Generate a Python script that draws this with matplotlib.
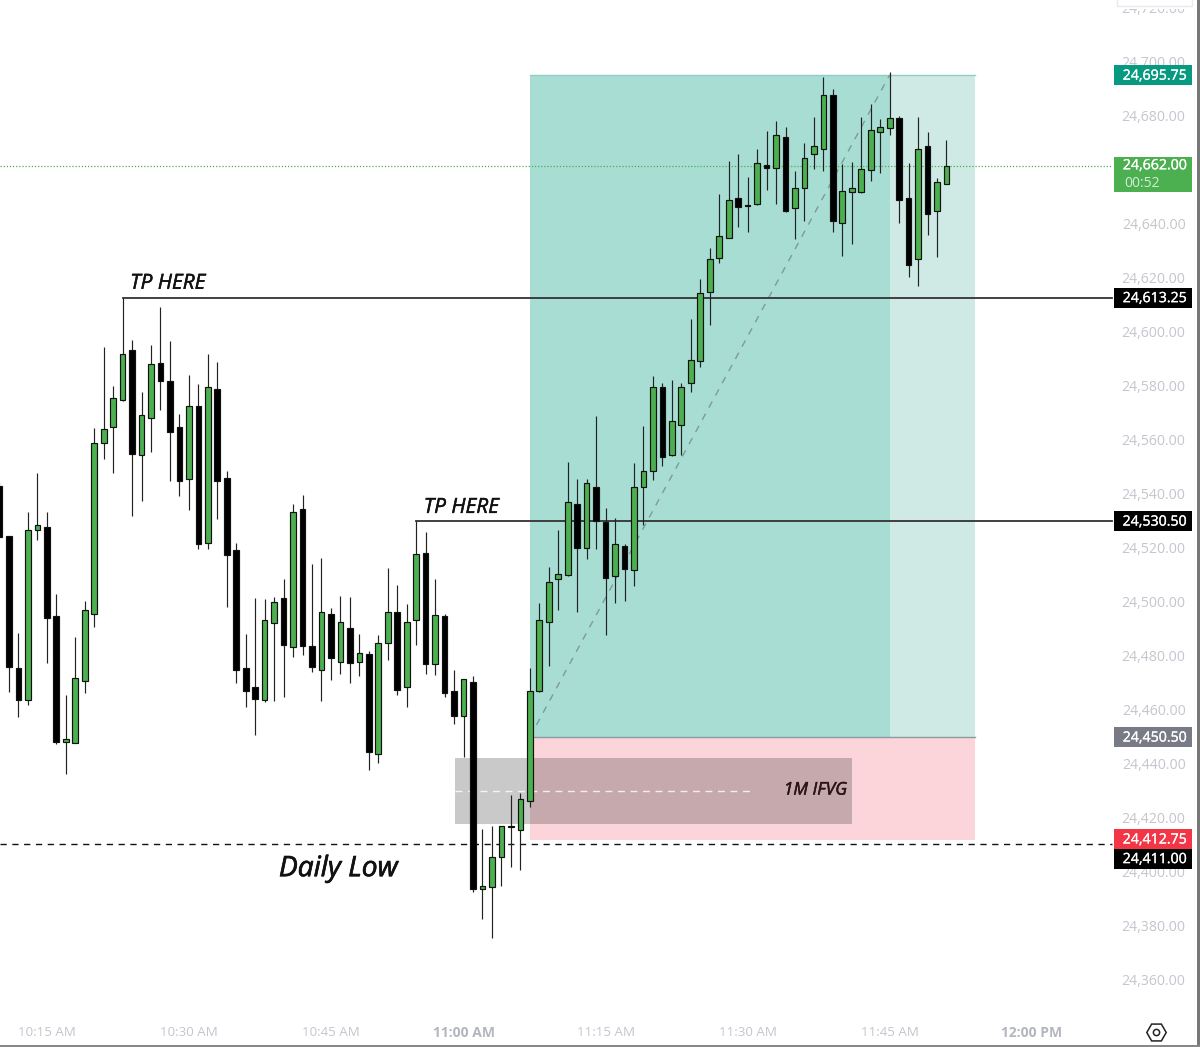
import matplotlib
matplotlib.use("Agg")
import matplotlib.pyplot as plt
import matplotlib.patheffects as pe
from matplotlib.patches import Rectangle
from matplotlib.transforms import blended_transform_factory

plt.rcParams["font.family"] = ["Open Sans", "DejaVu Sans"]

# one minute candles
opens = [
    24543.5, 24525, 24476.25, 24464.25, 24527.25, 24528.25, 24495.5, 24448.75, 24448.5, 24471.25,
    24496.25, 24559.25, 24565.25, 24575.5, 24593.75, 24555, 24568.75, 24589, 24582.5, 24565.25,
    24546, 24573.25, 24522.5, 24579.25, 24546.5, 24519.75, 24476.25, 24469.25, 24464.25, 24492.75,
    24502, 24484, 24535, 24484.25, 24475.5, 24496.25, 24478.25, 24491, 24478.5, 24481.25,
    24444.25, 24485.25, 24497, 24469.25, 24493.75, 24518.75, 24477.75, 24495.5, 24467.75, 24458.5,
    24471, 24394.25, 24395, 24406.25, 24417.5, 24416.25, 24427, 24467.75, 24493, 24509.25,
    24510.5, 24537, 24520.5, 24543.25, 24530.25, 24510, 24521.25, 24512.5, 24543, 24549,
    24580, 24555, 24566.25, 24581.75, 24589.75, 24615.5, 24628, 24635.5, 24650.25, 24647.5,
    24648, 24662.25, 24661.25, 24672.75, 24646.5, 24653.75, 24666.5, 24668.25, 24688.25, 24640.75,
    24652.25, 24652.25, 24660.5, 24674.5, 24676.25, 24679.75, 24650.25, 24627.75, 24669.25, 24645.5,
    24655.5,
]
highs = [
    24545, 24525, 24489, 24534, 24548.25, 24534, 24503.5, 24466, 24487.75, 24500.75,
    24565, 24595, 24580.5, 24613.25, 24597.75, 24578.25, 24595.75, 24609.75, 24597.25, 24570.25,
    24584.5, 24581.25, 24592.5, 24589.25, 24549, 24522.25, 24488.75, 24502, 24501.5, 24502.25,
    24509.25, 24537, 24540.25, 24514.75, 24516.75, 24498.25, 24502.75, 24502.25, 24488.75, 24482.25,
    24488.5, 24513, 24506.75, 24499.75, 24530.5, 24526.5, 24509.25, 24496.25, 24475.5, 24472,
    24473, 24416.5, 24417.5, 24417.5, 24429, 24429.75, 24476.25, 24500.25, 24513.5, 24527.25,
    24552.5, 24546, 24546, 24569.5, 24535.5, 24531.5, 24522, 24552, 24565.75, 24584.25,
    24581.75, 24582.75, 24581.75, 24605.5, 24620, 24631.75, 24651.5, 24664, 24666.5, 24658,
    24668.5, 24675, 24678.75, 24676.5, 24660, 24670.5, 24680, 24695, 24690.5, 24662.75,
    24663.5, 24680.25, 24685, 24679.5, 24697, 24680.5, 24663, 24680, 24674.5, 24657.75,
    24671.5,
]
lows = [
    24524.75, 24467.25, 24458, 24462.5, 24523.5, 24478, 24448, 24436.75, 24448.5, 24467,
    24491.25, 24553.5, 24548.5, 24575, 24532.5, 24538, 24556, 24571.5, 24545.5, 24539.75,
    24534.5, 24520, 24520, 24531.25, 24498.75, 24470.5, 24461.75, 24451.25, 24463.5, 24463.75,
    24465.25, 24480, 24481, 24474.75, 24464, 24471.5, 24473.75, 24470.5, 24473.25, 24438.5,
    24441, 24479, 24466.25, 24461.75, 24484.75, 24474, 24473.5, 24465.25, 24455.25, 24443,
    24393.25, 24383.25, 24376.25, 24395.5, 24402.5, 24401.25, 24424.75, 24467.25, 24477, 24497.5,
    24510, 24497, 24516.5, 24520, 24488.5, 24500.25, 24500.75, 24506.5, 24529, 24545.75,
    24551, 24554.5, 24555, 24578.5, 24587.75, 24603, 24626.25, 24635.5, 24639.25, 24637.75,
    24647.75, 24653, 24648, 24645, 24635, 24641.75, 24661, 24660.25, 24637.5, 24628.75,
    24633.25, 24652, 24656.5, 24659.25, 24673.5, 24641, 24621, 24617.75, 24636.5, 24628.25,
    24655.5,
]
closes = [
    24524.75, 24476.5, 24464.25, 24527.25, 24529, 24494.75, 24448.75, 24449.75, 24472.5, 24497.75,
    24559.25, 24564.5, 24576.25, 24592.25, 24555.5, 24569.75, 24588.75, 24582.5, 24563.5, 24545.5,
    24573.25, 24522, 24580, 24545.5, 24518, 24475.5, 24467.75, 24464.5, 24493.75, 24500.5,
    24484.75, 24533.75, 24484.25, 24476.5, 24497, 24479.75, 24493, 24478, 24481.5, 24445,
    24485.25, 24497, 24468, 24493, 24518.5, 24477.5, 24495.75, 24467, 24458.25, 24472,
    24394.25, 24395.25, 24406.25, 24417.5, 24417.25, 24427.75, 24467.75, 24494, 24508, 24511,
    24537.75, 24520.5, 24544.5, 24530.5, 24509.5, 24522, 24512.75, 24543, 24549, 24580.25,
    24554.25, 24567.5, 24580.25, 24590, 24615, 24627.75, 24636.25, 24649.25, 24647, 24647.25,
    24663, 24661.25, 24673.5, 24645.5, 24653.75, 24665, 24669.25, 24688.25, 24641.75, 24652.75,
    24653.75, 24660.75, 24675.25, 24676.5, 24679.75, 24649.25, 24625.5, 24668.25, 24644.25, 24656.25,
    24662,
]

price_ticks = list(range(24360, 24721, 20))
time_ticks = [5, 20, 35, 49, 64, 79, 94, 109]
time_labels = ["10:15 AM", "10:30 AM", "10:45 AM", "11:00 AM", "11:15 AM", "11:30 AM", "11:45 AM", "12:00 PM"]
time_bold = ["11:00 AM", "12:00 PM"]

entry_price = 24450.50
target_price = 24695.75
stop_price = 24412.75
daily_low = 24411.00
last_price = 24662.00
tp_prices = [24613.25, 24530.50]
tp_starts = [13, 44]
fvg_top = 24442.75
fvg_bottom = 24418.25

GREEN = "#4CAF50"
TICK_GREY = "#C4C6CE"
INK = "#111111"

fig = plt.figure(figsize=(12.0, 10.47), dpi=100)
ax = fig.add_axes([0, 0, 1, 1])
ax.set_xlim(0.053, 126.77)
ax.set_ylim(24335.74, 24723.5)
ax.axis("off")

y_axes = blended_transform_factory(ax.transAxes, ax.transData)
x_axes = blended_transform_factory(ax.transData, ax.transAxes)


def heavier(width, colour=INK):
    return [pe.withStroke(linewidth=width, foreground=colour)]


# position boxes
ax.add_patch(Rectangle((56, entry_price), 38, target_price - entry_price, fc="#A8DDD3", ec="none", zorder=1))
ax.add_patch(Rectangle((94, entry_price), 9, target_price - entry_price, fc="#CFEAE4", ec="none", zorder=1))
ax.add_patch(Rectangle((56, stop_price - 0.3), 47, entry_price - stop_price + 0.3, fc="#FBD5D9", ec="none", zorder=1))
ax.plot([56, 103], [target_price, target_price], color="#8ECFC3", lw=1, zorder=1.5)
ax.plot([56, 103], [entry_price, entry_price], color="#8A9AA0", lw=1, zorder=1.5)

# inverse fair value gap
ax.add_patch(Rectangle((48.1, fvg_bottom), 41.9, fvg_top - fvg_bottom, fc="#1E1E1E", alpha=0.24, ec="none", zorder=1.6))
fvg_mid = (fvg_top + fvg_bottom) / 2
ax.plot([48.1, 79.2], [fvg_mid, fvg_mid], color="white", lw=1, ls=(0, (5, 4)), alpha=0.8, zorder=1.7)
ax.text(89.5, fvg_mid + 0.2, "1M IFVG", ha="right", va="center", style="italic", fontsize=12.6,
        color="#2A1418", zorder=5, path_effects=heavier(0.35, "#2A1418"))

# horizontal levels
ax.plot([56, 94], [entry_price, target_price], color="#7E9A96", lw=1, ls=(0, (5, 5)), zorder=2)
ax.plot([0.053, 117.5], [last_price, last_price], color=GREEN, lw=0.9, ls=(0, (1, 1.5)), zorder=2)
ax.plot([0.053, 117.5], [daily_low, daily_low], color=INK, lw=1, ls=(0, (4.5, 4)), zorder=2)
for price, start in zip(tp_prices, tp_starts):
    ax.plot([start, 117.5], [price, price], color="#333333", lw=1.3, zorder=2.5)

# candles
for i, (o, h, l, c) in enumerate(zip(opens, highs, lows, closes)):
    up = c >= o
    ax.vlines(i, l, h, color="#222222", lw=0.85, zorder=3)
    ax.add_patch(Rectangle((i - 0.3, min(o, c)), 0.6, abs(c - o), fc=GREEN if up else "black",
                           ec=INK, lw=0.85, zorder=4))

ax.text(13.8, 24614.7, "TP HERE", style="italic", fontsize=15, ha="left", va="bottom", color=INK,
        zorder=5, path_effects=heavier(0.35))
ax.text(44.8, 24531.7, "TP HERE", style="italic", fontsize=15, ha="left", va="bottom", color=INK,
        zorder=5, path_effects=heavier(0.35))
ax.text(29.5, 24401.6, "Daily Low", style="italic", fontsize=20.3, ha="left", va="center", color=INK,
        zorder=5, path_effects=heavier(0.5))

# price scale
for tick in price_ticks:
    ax.text(0.988, tick + 0.1, f"{tick:,.2f}", transform=y_axes, ha="right", va="center",
            fontsize=10.2, color=TICK_GREY, zorder=5)

# a control sits over the top of the scale and cuts the highest label
ax.add_patch(Rectangle((0.931, 24720.2), 0.064, 5, transform=y_axes, fc="white", ec="none", zorder=5.4))
ax.add_patch(Rectangle((0.931, 24721.3), 0.0623, 5, transform=y_axes, fc="white", ec="#EAEAEE", lw=1, zorder=5.5))


def price_label(price, text, colour, shift=0.0, height=7.4):
    centre = price + shift
    ax.add_patch(Rectangle((0.9283, centre - height / 2), 0.065, height, transform=y_axes,
                           fc=colour, ec="none", zorder=6))
    ax.text(0.9888, centre - 0.35, text, transform=y_axes, ha="right", va="center", fontsize=10.2,
            color="white", zorder=7, path_effects=heavier(0.2, "white"))


price_label(target_price, "24,695.75", "#089981", shift=-0.1)
price_label(tp_prices[0], "24,613.25", "black")
price_label(tp_prices[1], "24,530.50", "black")
price_label(entry_price, "24,450.50", "#787B86")
price_label(stop_price, "24,412.75", "#F23645")
price_label(daily_low, "24,411.00", "black", shift=-5.5)

# last price with countdown
ax.add_patch(Rectangle((0.9283, last_price - 9.6), 0.065, 13, transform=y_axes, fc=GREEN, ec="none", zorder=6))
ax.text(0.9888, last_price + 0.1, "24,662.00", transform=y_axes, ha="right", va="center", fontsize=10.2,
        color="white", zorder=7, path_effects=heavier(0.2, "white"))
ax.text(0.9365, last_price - 6.4, "00:52", transform=y_axes, ha="left", va="center", fontsize=10,
        color="#D5EED6", zorder=7)

# time scale
for pos, label in zip(time_ticks, time_labels):
    bold = label in time_bold
    ax.text(pos, 0.0137, label, transform=x_axes, ha="center", va="center",
            fontsize=10 if bold else 9.6, fontweight="bold" if bold else "normal",
            color="#B4B6BE" if bold else TICK_GREY)

# settings icon
ax.plot([0.9633], [0.0143], transform=ax.transAxes, marker="H", ms=14, mfc="none", mec="#222222", mew=1.1)
ax.plot([0.9633], [0.0143], transform=ax.transAxes, marker="o", ms=4.5, mfc="none", mec="#222222", mew=1.1)

# window edge
ax.add_patch(Rectangle((0.9975, 0), 0.0025, 1, transform=ax.transAxes, fc="#777777", ec="none", zorder=8))
ax.add_patch(Rectangle((0, 0), 1, 0.0015, transform=ax.transAxes, fc="#888888", ec="none", zorder=8))

fig.savefig("out.png", dpi=100)
